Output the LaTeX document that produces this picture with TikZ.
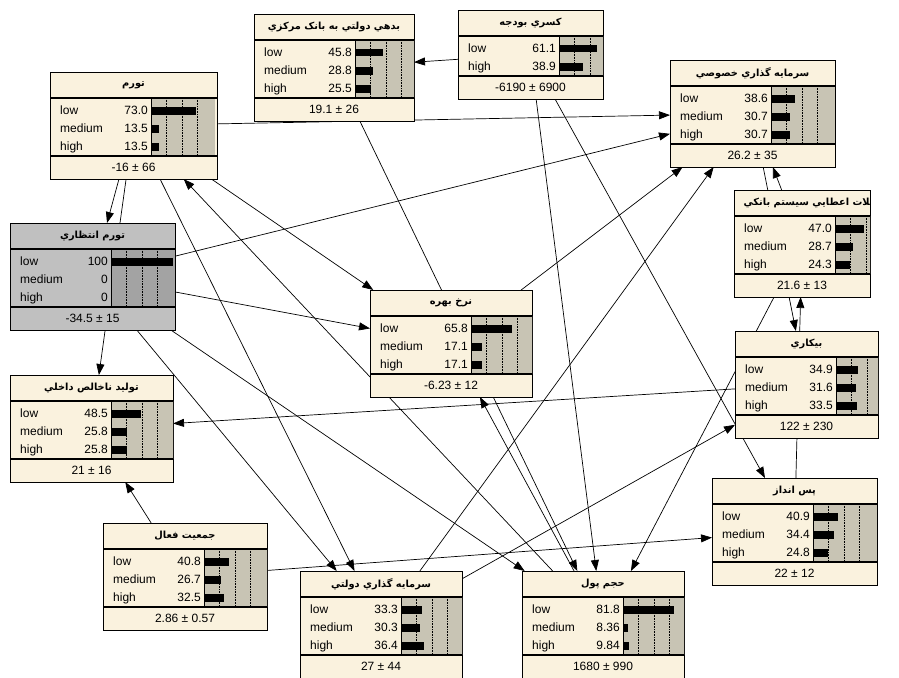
\documentclass[tikz,border=0pt]{standalone}
\usepackage{fontspec}
\setmainfont{Liberation Sans}
\newfontfamily\farsi[Script=Arabic]{DejaVu Sans}
\TeXXeTstate=1
\usetikzlibrary{arrows.meta,backgrounds}

\definecolor{nodecream}{RGB}{250,242,222}
\definecolor{barsand}{RGB}{200,196,180}
\definecolor{nodegray}{RGB}{192,192,192}
\definecolor{bargray}{RGB}{163,163,163}

\tikzset{
  box/.style={draw, line width=0.8pt, fill=nodecream, inner sep=0pt, outer sep=0pt},
  barfill/.style={fill=barsand},
  title/.style={font=\fontsize{9.8}{12}\selectfont\farsi\bfseries},
  state/.style={anchor=west, inner sep=0pt, text height=9pt, text depth=2.5pt, font=\fontsize{12}{14}\selectfont},
  prob/.style={state, anchor=east},
  meanval/.style={inner sep=0pt, font=\fontsize{12}{14}\selectfont},
  link/.style={-{Triangle[length=11pt,width=8pt]}, line width=0.7pt}
}

% belief box: name, left, top, width, rows, title, mean, states
\newcommand{\beliefnode}[8]{%
  \pgfmathsetmacro{\tb}{#3+26}%
  \pgfmathsetmacro{\bb}{#3+26+18*#5+4}%
  \pgfmathsetmacro{\fb}{\bb+23}%
  \node[box, minimum width=#4, minimum height={\fb-#3}, anchor=north west] (#1) at (#2,#3) {};
  \begin{scope}
    \clip (#2,#3) rectangle (#2+#4,\fb);
    \fill[barfill] (#2+101,\tb) rectangle (#2+165,\bb);
    \foreach \k in {1,2,3}
      \draw[densely dotted, line width=0.6pt] (#2+101+15.5*\k,\tb) -- (#2+101+15.5*\k,\bb);
    \node[title] at (#2+#4/2,#3+13) {#6};
    \foreach \lab/\val [count=\i] in {#8} {
      \pgfmathsetmacro{\rc}{\tb+4+18*\i-9}
      \node[state] at (#2+10,\rc) {\lab};
      \node[prob] at (#2+98,\rc) {\val};
      \fill (#2+101,\rc-4) rectangle (#2+101+0.62*\val,\rc+3.5);
    }
  \end{scope}
  \draw[line width=1.2pt] (#2,\tb) -- (#2+#4,\tb) (#2,\bb) -- (#2+#4,\bb);
  \draw[line width=0.8pt] (#2+101,\tb) -- (#2+101,\bb);
  \node[meanval] at (#2+#4/2,\bb+11.5) {#7};
}

\begin{document}
\begin{tikzpicture}[x=1pt, y=-1pt]
  \useasboundingbox (0,0) rectangle (899,677);

  % nodes
  \beliefnode{debt}{254}{14}{160}{3}{\beginR بدهي دولتي به بانک مرکزي\endR}{19.1 ± 26}{low/45.8, medium/28.8, high/25.5}
  \beliefnode{deficit}{458}{10}{145}{2}{\beginR کسري بودجه\endR}{-6190 ± 6900}{low/61.1, high/38.9}
  \beliefnode{inflation}{50}{72}{167}{3}{\beginR تورم\endR}{-16 ± 66}{low/73.0, medium/13.5, high/13.5}
  \begin{scope}[box/.append style={fill=nodegray}, barfill/.style={fill=bargray}]
    \beliefnode{expinf}{10}{223}{165}{3}{\beginR تورم انتظاري\endR}{-34.5 ± 15}{low/100, medium/0, high/0}
  \end{scope}
  \beliefnode{private}{670}{60}{165}{3}{\beginR سرمايه گذاري خصوصي\endR}{26.2 ± 35}{low/38.6, medium/30.7, high/30.7}
  \begin{scope}[title/.append style={anchor=west, xshift=-62pt}]
    \beliefnode{loans}{734}{190}{136}{3}{\beginR تسهيلات اعطايي سيستم بانکي\endR}{21.6 ± 13}{low/47.0, medium/28.7, high/24.3}
  \end{scope}
  \beliefnode{interest}{370}{290}{162}{3}{\beginR نرخ بهره\endR}{-6.23 ± 12}{low/65.8, medium/17.1, high/17.1}
  \beliefnode{unemp}{735}{331}{143}{3}{\beginR بيکاري\endR}{122 ± 230}{low/34.9, medium/31.6, high/33.5}
  \beliefnode{gdp}{10}{375}{163}{3}{\beginR توليد ناخالص داخلي\endR}{21 ± 16}{low/48.5, medium/25.8, high/25.8}
  \beliefnode{saving}{712}{478}{165}{3}{\beginR پس انداز\endR}{22 ± 12}{low/40.9, medium/34.4, high/24.8}
  \beliefnode{labor}{103}{523}{164}{3}{\beginR جمعيت فعال\endR}{2.86 ± 0.57}{low/40.8, medium/26.7, high/32.5}
  \beliefnode{govinv}{300}{571}{162}{3}{\beginR سرمايه گذاري دولتي\endR}{27 ± 44}{low/33.3, medium/30.3, high/36.4}
  \beliefnode{money}{522}{571}{162}{3}{\beginR حجم پول\endR}{1680 ± 990}{low/81.8, medium/8.36, high/9.84}

  % links
  \begin{scope}[on background layer]
    \draw[link] (deficit) -- (debt);
    \draw[link] (deficit) -- (money);
    \draw[link] (deficit) -- (saving);
    \draw[link] (debt) -- (money);
    \draw[link] (inflation) -- (private);
    \draw[link] (inflation) -- (expinf);
    \draw[link] (inflation) -- (gdp);
    \draw[link] (inflation) -- (govinv);
    \draw[link] (inflation) -- (interest);
    \draw[link] (money) -- (inflation);
    \draw[link] (money) -- (interest);
    \draw[link] (expinf) -- (private);
    \draw[link] (expinf) -- (interest);
    \draw[link] (expinf) -- (govinv);
    \draw[link] (expinf) -- (money);
    \draw[link] (interest) -- (private);
    \draw[link] (govinv) -- (private);
    \draw[link] (govinv) -- (unemp);
    \draw[link] (unemp) -- (gdp);
    \draw[link] (private) -- (unemp);
    \draw[link] (saving) -- (loans);
    \draw[link] (loans) -- (private);
    \draw[link] (loans) -- (money);
    \draw[link] (labor) -- (gdp);
    \draw[link] (labor) -- (saving);
  \end{scope}
\end{tikzpicture}
\end{document}
